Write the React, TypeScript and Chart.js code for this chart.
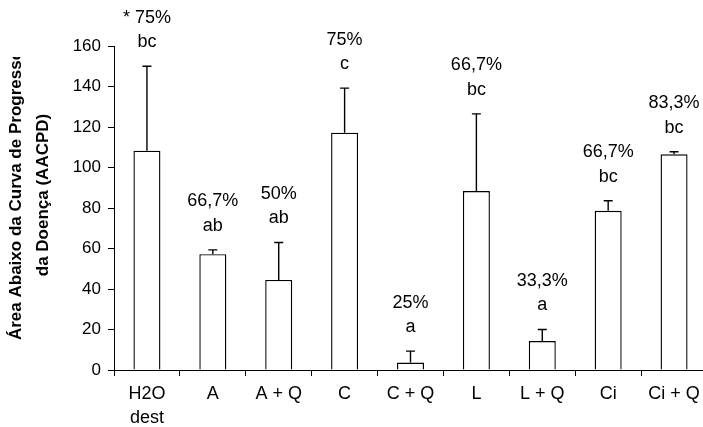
import React, { useEffect, useRef } from "react";
import { Chart, registerables } from "chart.js";

Chart.register(...registerables);

// Treatments on the x axis (multi-line where needed)
const categories: (string | string[])[] = [
  ["H2O", "dest"],
  "A",
  "A + Q",
  "C",
  "C + Q",
  "L",
  "L + Q",
  "Ci",
  "Ci + Q",
];

// Mean AACPD per treatment
const aacpd = [108.3, 57.2, 44.5, 117.2, 3.7, 88.4, 14.3, 78.6, 106.5];

// Upper error (standard deviation) per treatment
const errorUp = [41.7, 2.1, 18.5, 22.0, 5.6, 38.1, 5.7, 5.0, 1.3];

// Incidence and significance letters shown above each bar
const incidence = ["* 75%", "66,7%", "50%", "75%", "25%", "66,7%", "33,3%", "66,7%", "83,3%"];
const letters = ["bc", "ab", "ab", "c", "a", "bc", "a", "bc", "bc"];

const yTicks = { min: 0, max: 160, step: 20 };

const yTitle = ["Área Abaixo da Curva de Progresso", "da Doença (AACPD)"];

const FONT = "'Liberation Sans', Arial, Helvetica, sans-serif";

const errorBarsPlugin = {
  id: "errorBars",
  afterDatasetsDraw(chart: any) {
    const ctx = chart.ctx;
    const meta = chart.getDatasetMeta(0);
    const y = chart.scales.y;
    ctx.save();
    ctx.strokeStyle = "#000";
    ctx.lineWidth = 1.4;
    meta.data.forEach((bar: any, i: number) => {
      const top = y.getPixelForValue(aacpd[i] + errorUp[i]);
      const base = y.getPixelForValue(aacpd[i]);
      ctx.beginPath();
      ctx.moveTo(bar.x, base);
      ctx.lineTo(bar.x, top);
      ctx.moveTo(bar.x - 4.5, top);
      ctx.lineTo(bar.x + 4.5, top);
      ctx.stroke();
    });
    ctx.restore();
  },
};

const labelsPlugin = {
  id: "barLabels",
  afterDraw(chart: any) {
    const ctx = chart.ctx;
    const meta = chart.getDatasetMeta(0);
    const y = chart.scales.y;
    ctx.save();
    ctx.fillStyle = "#000";
    ctx.textAlign = "center";
    ctx.textBaseline = "middle";
    ctx.font = `18px ${FONT}`;
    meta.data.forEach((bar: any, i: number) => {
      const top = y.getPixelForValue(aacpd[i] + errorUp[i]);
      ctx.fillText(letters[i], bar.x, top - 24);
      ctx.fillText(incidence[i], bar.x, top - 48.5);
    });

    // rotated y-axis title, clipped to its box
    ctx.beginPath();
    ctx.rect(0, 57, 110, chart.height - 57);
    ctx.clip();
    ctx.font = `bold 17px ${FONT}`;
    const cy = 195;
    [16, 43].forEach((cx, k) => {
      ctx.save();
      ctx.translate(cx, cy);
      ctx.rotate(-Math.PI / 2);
      ctx.fillText(yTitle[k], 0, 0);
      ctx.restore();
    });
    ctx.restore();
  },
};

export default function App() {
  const canvasRef = useRef<HTMLCanvasElement | null>(null);

  useEffect(() => {
    if (!canvasRef.current) return;
    const chart = new Chart(canvasRef.current, {
      type: "bar",
      data: {
        labels: categories,
        datasets: [
          {
            data: aacpd,
            backgroundColor: "#ffffff",
            borderColor: "#000000",
            borderWidth: 1.4,
            barPercentage: 0.41,
            categoryPercentage: 1,
          },
        ],
      },
      plugins: [errorBarsPlugin, labelsPlugin],
      options: {
        responsive: false,
        animation: false,
        devicePixelRatio: 1,
        layout: { padding: { top: 46, right: 13, bottom: 0, left: 0 } },
        plugins: {
          legend: { display: false },
          tooltip: { enabled: false },
          title: { display: false },
        },
        scales: {
          x: {
            afterFit(scale: any) {
              scale.height = 57;
            },
            grid: {
              display: true,
              drawOnChartArea: false,
              drawTicks: true,
              tickLength: 6,
              color: "#000",
              offset: true,
            },
            border: { display: true, color: "#000", width: 1 },
            ticks: {
              color: "#000",
              font: { family: FONT, size: 18, lineHeight: 1.33 },
              padding: 6,
              maxRotation: 0,
              autoSkip: false,
            },
          },
          y: {
            min: yTicks.min,
            max: yTicks.max,
            afterFit(scale: any) {
              scale.width = 114;
            },
            grid: {
              display: true,
              drawOnChartArea: false,
              drawTicks: true,
              tickLength: 6,
              color: "#000",
            },
            border: { display: true, color: "#000", width: 1 },
            ticks: {
              stepSize: yTicks.step,
              color: "#000",
              font: { family: FONT, size: 17 },
              padding: 7,
            },
          },
        },
      },
    });
    return () => chart.destroy();
  }, []);

  return (
    <div
      style={{
        position: "fixed",
        left: 0,
        top: 0,
        width: 703,
        height: 427,
        overflow: "hidden",
        background: "#fff",
      }}
    >
      <canvas ref={canvasRef} width={720} height={427} style={{ display: "block" }} />
    </div>
  );
}
